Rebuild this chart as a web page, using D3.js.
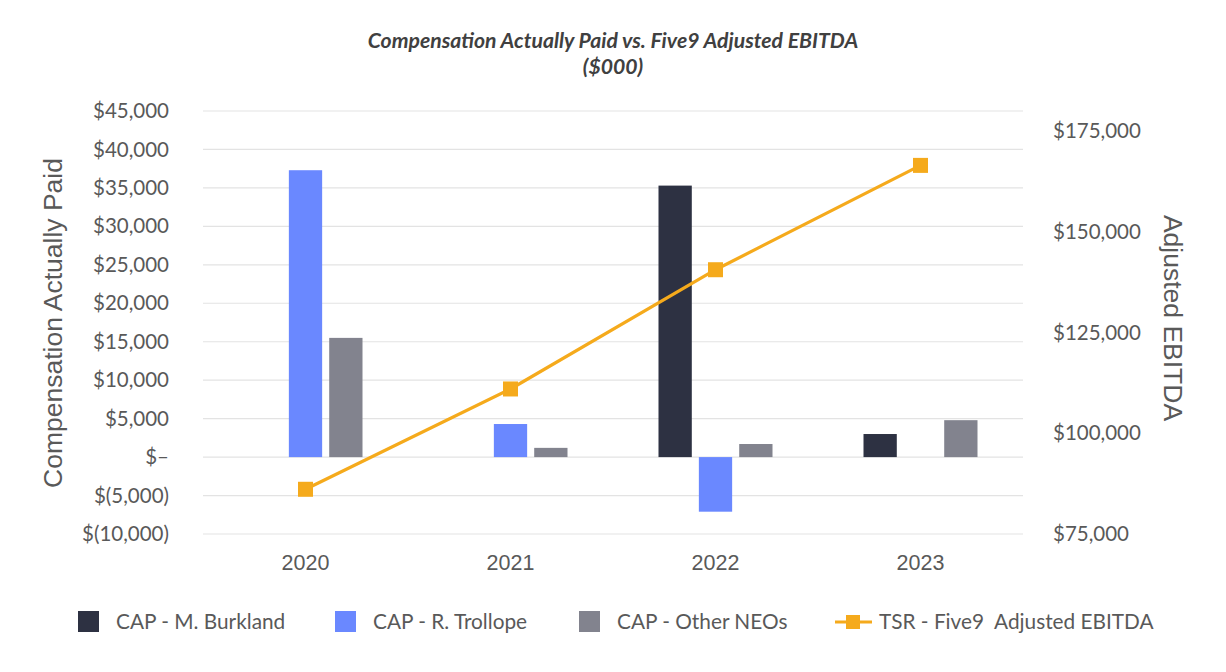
<!DOCTYPE html>
<html><head><meta charset="utf-8">
<script src="https://cdn.jsdelivr.net/npm/d3@7"></script>
<style>
body{margin:0;background:#fff;}
svg text{font-family:Lato,"Open Sans",sans-serif;}
</style></head>
<body><svg id="c" width="1226" height="672"></svg>
<script>
const years = ["2020","2021","2022","2023"];
const seriesNames = ["CAP - M. Burkland","CAP - R. Trollope","CAP - Other NEOs"];
const burkland = [null, null, 35300, 3000];
const trollope = [37300, 4300, -7100, null];
const otherNEOs = [15500, 1200, 1700, 4800];
const ebitda = [86100, 111000, 140600, 166500];
const lineName = "TSR - Five9  Adjusted EBITDA";
const leftTicks = [-10000,-5000,0,5000,10000,15000,20000,25000,30000,35000,40000,45000];
const rightTicks = [75000,100000,125000,150000,175000];
const colors = ["#2D3142","#6A88FF","#82838E"];
const lineColor = "#F5AA1C";

const svg = d3.select("#c");
const L = 203, R = 1023, T = 111, B = 534;

const x0 = d3.scaleBand().domain(years).range([L,R]).padding(0);
const x1 = d3.scaleBand().domain(seriesNames).range([-57,57]).paddingInner(0.175);
const yL = d3.scaleLinear().domain([-10000,45000]).range([B,T]);
const yR = d3.scaleLinear().domain([75000,180000]).range([B,T]);

const fmtL = v => v===0 ? "$\u2013" : (v<0 ? "$(" + d3.format(",")(-v) + ")" : "$" + d3.format(",")(v));
const fmtR = v => "$" + d3.format(",")(v);

// gridlines
svg.append("g").selectAll("line").data(leftTicks).join("line")
  .attr("x1",L).attr("x2",R).attr("y1",d=>yL(d)).attr("y2",d=>yL(d))
  .attr("stroke","#e3e3e3").attr("stroke-width",1.2);

// left axis
const gl = svg.append("g").attr("transform",`translate(${L},0)`)
  .call(d3.axisLeft(yL).tickValues(leftTicks).tickFormat(fmtL).tickSize(0).tickPadding(34));
gl.select(".domain").remove();
gl.selectAll("text").attr("font-size",20.5).attr("fill","#595959").attr("font-family","Lato");

// right axis
const gr = svg.append("g").attr("transform",`translate(${R},0)`)
  .call(d3.axisRight(yR).tickValues(rightTicks).tickFormat(fmtR).tickSize(0).tickPadding(30));
gr.select(".domain").remove();
gr.selectAll("text").attr("font-size",20.5).attr("fill","#595959").attr("font-family","Lato");

// x axis labels
const gx = svg.append("g").attr("transform",`translate(0,${B})`)
  .call(d3.axisBottom(x0).tickSize(0).tickPadding(21));
gx.select(".domain").remove();
gx.selectAll("text").attr("font-size",21.5).attr("fill","#595959").style("font-family","'Liberation Sans', Arial");

// bars
const seriesData = [burkland, trollope, otherNEOs];
seriesData.forEach((arr,si)=>{
  svg.append("g").selectAll("rect").data(years.map((y,i)=>({y,v:arr[i]})).filter(d=>d.v!==null)).join("rect")
    .attr("x",d=>x0(d.y)+x0.bandwidth()/2+x1(seriesNames[si]))
    .attr("width",x1.bandwidth())
    .attr("y",d=>Math.min(yL(d.v),yL(0)))
    .attr("height",d=>Math.abs(yL(d.v)-yL(0)))
    .attr("fill",colors[si]);
});

// line
const cx = y => x0(y)+x0.bandwidth()/2;
svg.append("path").datum(years.map((y,i)=>[cx(y),yR(ebitda[i])]))
  .attr("d",d3.line()).attr("fill","none").attr("stroke",lineColor).attr("stroke-width",3.2);
svg.append("g").selectAll("rect").data(years.map((y,i)=>({y,v:ebitda[i]}))).join("rect")
  .attr("x",d=>cx(d.y)-7.5).attr("y",d=>yR(d.v)-7.5).attr("width",15).attr("height",15).attr("fill",lineColor);

// title
svg.append("text").attr("x",613).attr("y",48).attr("text-anchor","middle")
  .attr("font-size",21.2).attr("font-style","italic").attr("font-weight","bold").attr("fill","#404040")
  .text("Compensation Actually Paid vs. Five9 Adjusted EBITDA");
svg.append("text").attr("x",613).attr("y",74).attr("text-anchor","middle")
  .attr("font-size",21.2).attr("font-style","italic").attr("font-weight","bold").attr("fill","#404040")
  .text("($000)");

// axis titles
svg.append("text").attr("transform","translate(62,323) rotate(-90)").attr("text-anchor","middle")
  .attr("font-size",26.5).attr("fill","#595959")
  .style("font-family","'Liberation Sans', Arial").text("Compensation Actually Paid");
svg.append("text").attr("transform","translate(1164,318) rotate(90)").attr("text-anchor","middle")
  .attr("font-size",26.5).attr("fill","#595959")
  .style("font-family","'Liberation Sans', Arial").text("Adjusted EBITDA");

// legend
const lg = svg.append("g");
const legItems = [
  {name:seriesNames[0], type:"bar", c:colors[0], x:78},
  {name:seriesNames[1], type:"bar", c:colors[1], x:335},
  {name:seriesNames[2], type:"bar", c:colors[2], x:579},
  {name:lineName, type:"line", c:lineColor, x:835}
];
const ly = 622;
legItems.forEach(it=>{
  if(it.type==="bar"){
    lg.append("rect").attr("x",it.x).attr("y",ly-11).attr("width",21).attr("height",21).attr("fill",it.c);
    lg.append("text").attr("x",it.x+38).attr("y",ly).attr("dy","0.35em").attr("font-size",20.8).attr("fill","#595959").text(it.name);
  } else {
    lg.append("line").attr("x1",it.x).attr("x2",it.x+37).attr("y1",ly).attr("y2",ly).attr("stroke",it.c).attr("stroke-width",3.2);
    lg.append("rect").attr("x",it.x+11).attr("y",ly-7).attr("width",14).attr("height",14).attr("fill",it.c);
    lg.append("text").attr("x",it.x+44).attr("y",ly).attr("dy","0.35em").attr("font-size",20.8).attr("fill","#595959")
      .style("white-space","pre").text(it.name);
  }
});
</script></body></html>
